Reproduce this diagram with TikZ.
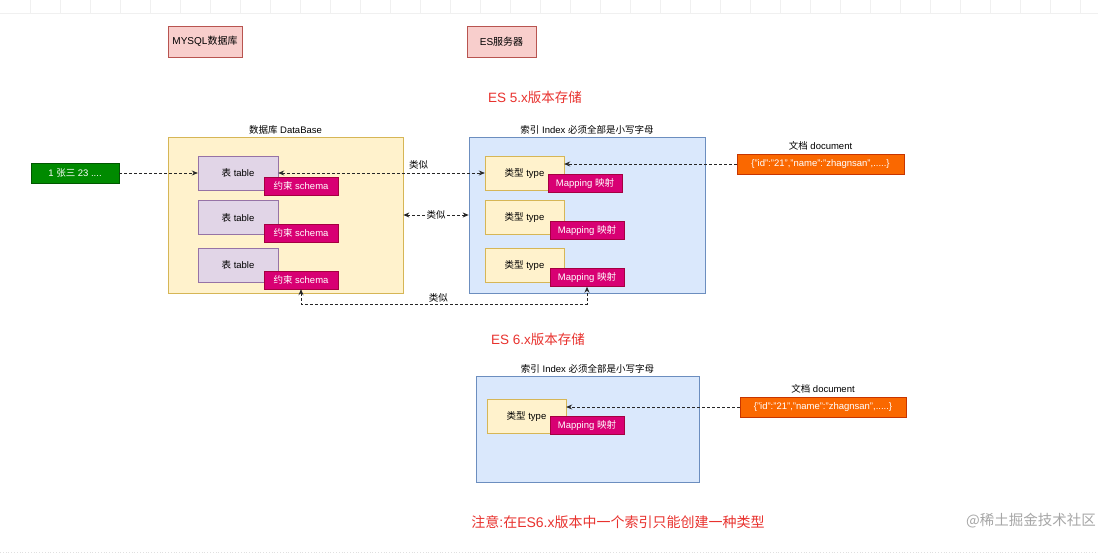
\documentclass[tikz,border=0pt]{standalone}
\usepackage{fontspec}
\setmainfont{Liberation Sans}
\newfontfamily\cjk{Noto Sans CJK SC}
\newcommand{\zh}[1]{{\cjk #1}}
\usetikzlibrary{arrows.meta,positioning}

\definecolor{pinkfill}{HTML}{F8CECC}
\definecolor{pinkline}{HTML}{B85450}
\definecolor{yelfill}{HTML}{FFF2CC}
\definecolor{yelline}{HTML}{D6B656}
\definecolor{bluefill}{HTML}{DAE8FC}
\definecolor{blueline}{HTML}{6C8EBF}
\definecolor{purfill}{HTML}{E1D5E7}
\definecolor{purline}{HTML}{9673A6}
\definecolor{magfill}{HTML}{D80073}
\definecolor{magline}{HTML}{A50040}
\definecolor{grnfill}{HTML}{008A00}
\definecolor{grnline}{HTML}{005700}
\definecolor{orgfill}{HTML}{FA6800}
\definecolor{orgline}{HTML}{C73500}
\definecolor{titlered}{HTML}{E8322E}

\begin{document}
\begin{tikzpicture}[
    x=1pt, y=-1pt,
    box/.style={draw, align=center, inner sep=0pt, font=\fontsize{9.5}{11}\selectfont},
    server/.style={box, fill=pinkfill, draw=pinkline, minimum height=31pt,
                   font=\fontsize{10}{12}\selectfont},
    group/.style={box, line width=0.7pt},
    tbl/.style={box, fill=purfill, draw=purline, minimum width=80pt, minimum height=34pt},
    typ/.style={box, fill=yelfill, draw=yelline, minimum width=79pt, minimum height=34pt},
    tag/.style={box, fill=magfill, draw=magline, text=white, minimum width=74pt, minimum height=18pt},
    doc/.style={box, fill=orgfill, draw=orgline, text=white, minimum width=167pt, minimum height=20pt},
    caption/.style={inner sep=1pt, font=\fontsize{9.5}{11}\selectfont},
    headline/.style={inner sep=0pt, text=titlered, font=\fontsize{13.5}{15}\selectfont},
    link/.style={draw=black!85, dash pattern=on 3pt off 2pt, line width=0.75pt,
                 {Stealth[length=6pt,width=5pt]}-{Stealth[length=6pt,width=5pt]}},
    feed/.style={link, -{Stealth[length=6pt,width=5pt]}},
    gridline/.style={draw=black!6, line width=0.6pt},
  ]
    \useasboundingbox (0,0) rectangle (1098,557);

    % ---- faint canvas grid ----
    \foreach \gx in {30,60,...,1080}
      \draw[gridline] (\gx,0) -- (\gx,13);
    \draw[gridline] (0,13) -- (1098,13);
    \draw[draw=black!12, dotted, line width=0.8pt] (0,552) -- (1098,552);

    % ---- headers ----
    \node[server, minimum width=74pt] (mysql) at (205,41.5) {MYSQL\zh{数据库}};
    \node[server, minimum width=69pt] (es) at (501.5,41.5) {ES\zh{服务器}};
    \node[headline] (title5) at (535,97) {ES 5.x\zh{版本存储}};

    % ---- ES 5.x: database side ----
    \node[group, fill=yelfill, draw=yelline, minimum width=235pt, minimum height=156pt]
        (db) at (285.5,215) {};
    \node[caption, above=1pt of db] (dblabel) {\zh{数据库} DataBase};
    \node[box, fill=grnfill, draw=grnline, text=white, minimum width=88pt, minimum height=20pt]
        (row) at (75,173) {1 \zh{张三} 23 ....};
    \node[tbl] (tab1) at (238,173) {\zh{表} table};
    \node[tbl] (tab2) at (238,217.5) {\zh{表} table};
    \node[tbl] (tab3) at (238,265) {\zh{表} table};
    \node[tag] (sch1) at (301,186) {\zh{约束} schema};
    \node[tag] (sch2) at (301,233) {\zh{约束} schema};
    \node[tag] (sch3) at (301,280) {\zh{约束} schema};

    % ---- ES 5.x: index side ----
    \node[group, fill=bluefill, draw=blueline, minimum width=236pt, minimum height=156pt]
        (idx5) at (587,215) {};
    \node[caption, above=1pt of idx5] (idx5label) {\zh{索引} Index \zh{必须全部是小写字母}};
    \node[typ] (typ1) at (524.5,173) {\zh{类型} type};
    \node[typ] (typ2) at (524.5,217.5) {\zh{类型} type};
    \node[typ] (typ3) at (524.5,265) {\zh{类型} type};
    \node[tag] (map1) at (585,183) {Mapping \zh{映射}};
    \node[tag] (map2) at (587,230.5) {Mapping \zh{映射}};
    \node[tag] (map3) at (587,277.5) {Mapping \zh{映射}};

    \node[doc] (doc5) at (820.5,164) {\{"id":"21","name":"zhagnsan",.....\}};
    \node[caption, above=2pt of doc5] (doc5label) {\zh{文档} document};

    \draw[feed] (row) -- (tab1);
    \draw[link] (tab1.east) -- (typ1.west) node[caption, pos=0.68, above=2pt] {\zh{类似}};
    \draw[link] (db.east) -- (idx5.west) node[caption, midway, fill=white, inner sep=1pt] {\zh{类似}};
    \draw[link] (sch3.south) -- ++(0,15) -| (map3.south) node[caption, pos=0.24, above=1pt] {\zh{类似}};
    \draw[feed] (doc5.west) -- (doc5.west -| typ1.east);

    % ---- ES 6.x ----
    \node[headline] (title6) at (538,339) {ES 6.x\zh{版本存储}};
    \node[group, fill=bluefill, draw=blueline, minimum width=223pt, minimum height=106pt]
        (idx6) at (587.5,429) {};
    \node[caption, above=1pt of idx6] (idx6label) {\zh{索引} Index \zh{必须全部是小写字母}};
    \node[typ] (typ6) at (526.5,416) {\zh{类型} type};
    \node[tag] (map6) at (587,425.5) {Mapping \zh{映射}};
    \node[doc, minimum width=166pt] (doc6) at (823,407) {\{"id":"21","name":"zhagnsan",.....\}};
    \node[caption, above=2pt of doc6] (doc6label) {\zh{文档} document};
    \draw[feed] (doc6.west) -- (doc6.west -| typ6.east);

    % ---- footnote ----
    \node[headline, font=\fontsize{14}{16}\selectfont] (note) at (618,522)
        {\zh{注意}:\zh{在}ES6.x\zh{版本中一个索引只能创建一种类型}};
    \node[inner sep=0pt, anchor=east, text=black!35, font=\cjk\fontsize{14.5}{17}\selectfont]
        (mark) at (1096,521) {@稀土掘金技术社区};
\end{tikzpicture}
\end{document}
